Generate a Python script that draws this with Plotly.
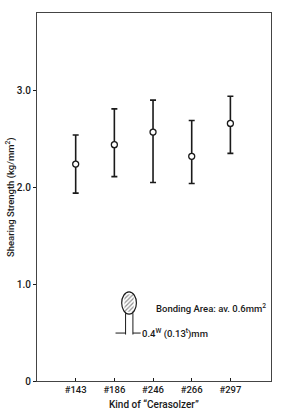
import plotly.graph_objects as go

categories = ["#143", "#186", "#246", "#266", "#297"]
means = [2.24, 2.44, 2.57, 2.32, 2.66]
upper = [2.54, 2.81, 2.90, 2.69, 2.94]
lower = [1.94, 2.11, 2.05, 2.04, 2.35]
y_ticks = [0, 1.0, 2.0, 3.0]
y_tick_labels = ["0", "1.0", "2.0", "3.0"]

xpos = list(range(1, len(categories) + 1))
err_plus = [u - m for u, m in zip(upper, means)]
err_minus = [m - l for m, l in zip(means, lower)]

FONT = "Roboto, Liberation Sans, Arial, sans-serif"
INK = "#1a1a1a"

fig = go.Figure()
fig.add_trace(go.Scatter(
    x=xpos, y=means, mode="markers",
    marker=dict(symbol="circle", size=6, color="white",
                line=dict(color=INK, width=1.3)),
    error_y=dict(type="data", symmetric=False, array=err_plus,
                 arrayminus=err_minus, color=INK, thickness=1.6, width=3),
    showlegend=False, hoverinfo="skip",
))

# inset: specimen sketch (hatched ellipse with leads)
fig.add_trace(go.Scatter(
    x=[2.26, 2.50, 2.50, 2.26, 2.26], y=[0.715, 0.715, 0.895, 0.895, 0.715],
    mode="lines", fill="toself", line=dict(width=0, color="rgba(0,0,0,0)"),
    fillcolor="white",
    fillpattern=dict(shape="/", fgcolor="#222", bgcolor="white", size=3, solidity=0.4),
    showlegend=False, hoverinfo="skip",
))

shapes = [
    dict(type="circle", xref="x", yref="y", x0=2.19, x1=2.57, y0=0.69, y1=0.92,
         line=dict(color=INK, width=1.2)),
    dict(type="line", xref="x", yref="y", x0=2.29, x1=2.29, y0=0.70, y1=0.48,
         line=dict(color=INK, width=1)),
    dict(type="line", xref="x", yref="y", x0=2.48, x1=2.48, y0=0.70, y1=0.48,
         line=dict(color=INK, width=1)),
    dict(type="line", xref="x", yref="y", x0=2.03, x1=2.29, y0=0.495, y1=0.495,
         line=dict(color=INK, width=1)),
    dict(type="line", xref="x", yref="y", x0=2.48, x1=2.68, y0=0.495, y1=0.495,
         line=dict(color=INK, width=1)),
]

annotations = [
    dict(x=3.02, y=0.755, xref="x", yref="y", text="Bonding Area: av. 0.6mm<sup>2</sup>",
         showarrow=False, xanchor="left", yanchor="middle",
         font=dict(family=FONT, size=9.5, color=INK, weight=500)),
    dict(x=2.66, y=0.495, xref="x", yref="y", text="0.4<sup>W</sup> (0.13<sup>t</sup>)mm",
         showarrow=False, xanchor="left", yanchor="middle",
         font=dict(family=FONT, size=9.5, color=INK, weight=500)),
    # axis titles
    dict(x=0.5, y=-0.065, xref="paper", yref="paper", text="Kind of \u201cCerasolzer\u201d",
         showarrow=False, xanchor="center", yanchor="middle",
         font=dict(family=FONT, size=10, color=INK, weight=500)),
    dict(x=-0.115, y=0.5, xref="paper", yref="paper",
         text="Shearing Strength (kg/mm<sup>2</sup>)", textangle=-90,
         showarrow=False, xanchor="center", yanchor="middle",
         font=dict(family=FONT, size=9.5, color=INK, weight=500)),
]

fig.update_layout(
    width=283, height=416,
    margin=dict(l=37, r=12, t=13, b=35),
    paper_bgcolor="white", plot_bgcolor="white",
    font=dict(family=FONT, size=9, color=INK),
    shapes=shapes, annotations=annotations,
    xaxis=dict(
        range=[0, 6.05], tickvals=xpos, ticktext=categories,
        ticks="inside", ticklen=3, tickcolor=INK, automargin=False,
        showline=True, linecolor="#444", linewidth=1, mirror=True,
        showgrid=False, zeroline=False, ticklabelstandoff=0,
        tickfont=dict(family=FONT, size=9.5, color=INK, weight=500),
    ),
    yaxis=dict(
        range=[0, 3.8], tickvals=y_ticks, ticktext=y_tick_labels,
        ticks="outside", ticklen=3, tickcolor=INK, automargin=False,
        showline=True, linecolor="#444", linewidth=1, mirror=True,
        showgrid=False, zeroline=False,
        tickfont=dict(family=FONT, size=10, color=INK, weight=500),
    ),
)

fig.write_html("out.html")
